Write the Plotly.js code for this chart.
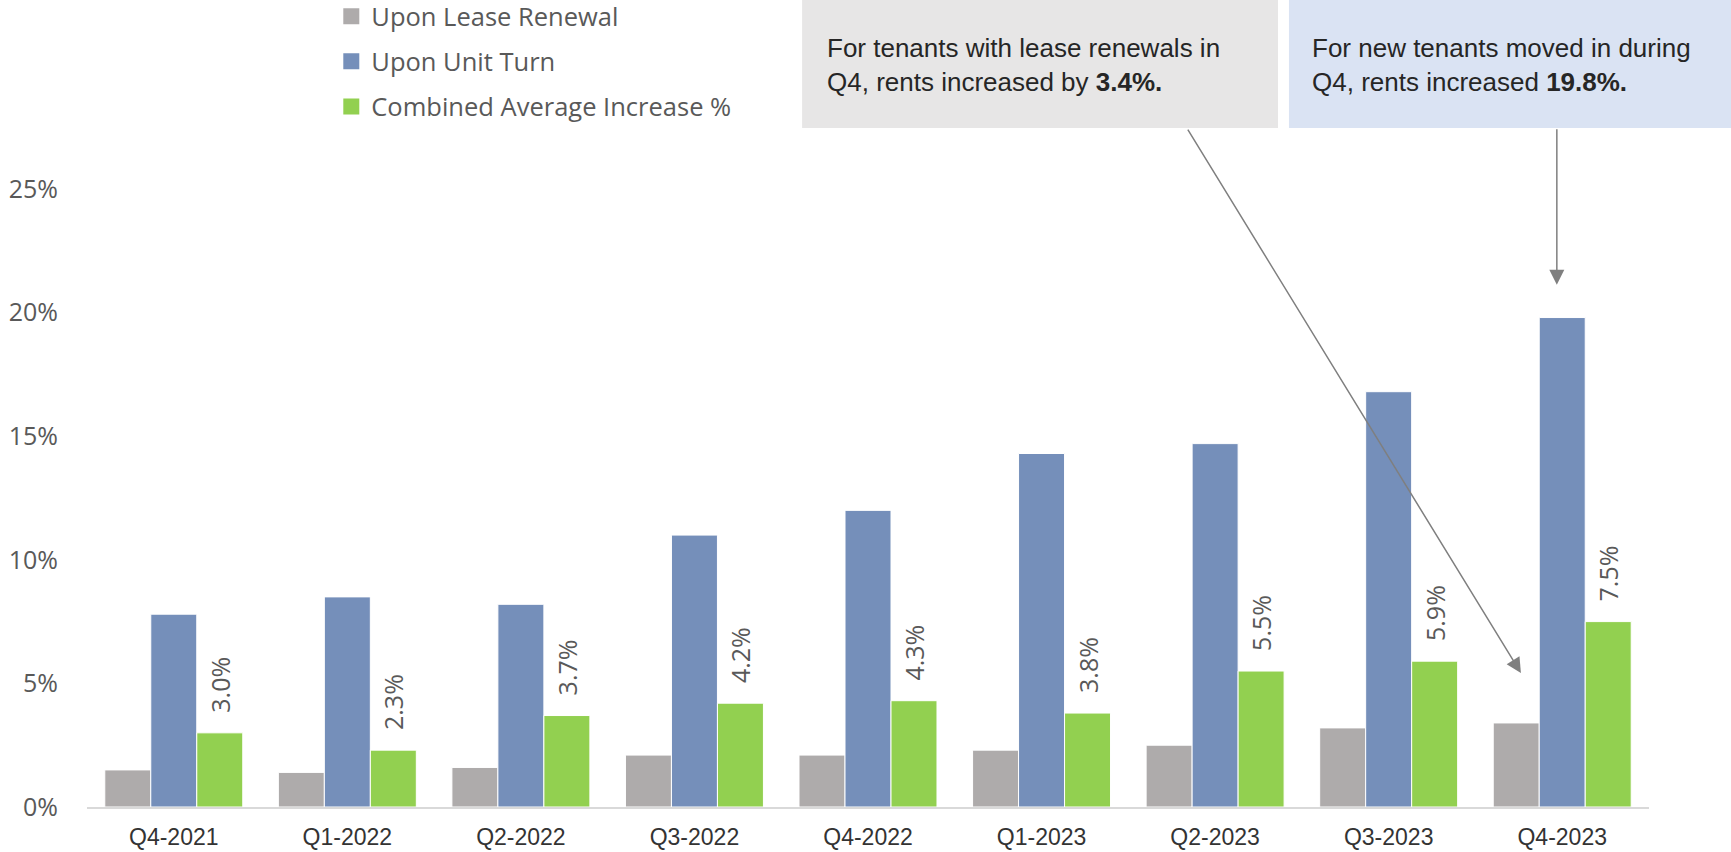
<!DOCTYPE html>
<html>
<head>
<meta charset="utf-8">
<script src="https://cdn.plot.ly/plotly-3.0.1.min.js"></script>
<style>html,body{margin:0;padding:0;background:#fff;}#chart{width:1731px;height:852px;}</style>
</head>
<body>
<div id="chart"></div>
<script>
// ---- data ----
const quarters = ['Q4-2021','Q1-2022','Q2-2022','Q3-2022','Q4-2022','Q1-2023','Q2-2023','Q3-2023','Q4-2023'];
const leaseRenewal = [1.5, 1.4, 1.6, 2.1, 2.1, 2.3, 2.5, 3.2, 3.4];
const unitTurn = [7.8, 8.5, 8.2, 11.0, 12.0, 14.3, 14.7, 16.8, 19.8];
const combinedAvg = [3.0, 2.3, 3.7, 4.2, 4.3, 3.8, 5.5, 5.9, 7.5];
const seriesNames = ['Upon Lease Renewal', 'Upon Unit Turn', 'Combined Average Increase %'];
const seriesColors = ['#AEABAB', '#758FBA', '#92D050'];
const yTicks = [0, 5, 10, 15, 20, 25];
const noteRenewal = 'For tenants with lease renewals in<br>Q4, rents increased by <b>3.4%.</b>';
const noteTurn = 'For new tenants moved in during<br>Q4, rents increased <b>19.8%.</b>';

const TXT = '#595959';
const SANS = 'Open Sans, DejaVu Sans, sans-serif';
const NARROW = 'Liberation Sans, Arial, sans-serif';

const pad = '\u00a0\u00a0\u2009';
const seriesValues = [leaseRenewal, unitTurn, combinedAvg];
const traces = [];
seriesValues.forEach((vals, i) => {
  const t = {type:'bar', name:seriesNames[i], x:quarters, y:vals, legendgroup:'g' + i,
    showlegend:false, marker:{color:seriesColors[i], line:{color:'#ffffff', width:1}}, hoverinfo:'skip'};
  if (i === 2) {
    Object.assign(t, {text: vals.map(v => pad + v.toFixed(1) + '%'),
      textposition:'outside', textangle:-90, constraintext:'none', cliponaxis:false,
      textfont:{family:SANS, size:25, color:TXT}});
  }
  traces.push(t);
});
// legend entries (square swatches like the reference)
seriesNames.forEach((n, i) => {
  traces.push({type:'scatter', mode:'markers', name:n, x:[null], y:[null], legendgroup:'g' + i,
    showlegend:true, marker:{symbol:'square', size:16, color:seriesColors[i]}, hoverinfo:'skip'});
});

const layout = {
  width:1731, height:852,
  margin:{l:87, r:82, t:189, b:45, pad:0, autoexpand:false},
  paper_bgcolor:'#ffffff', plot_bgcolor:'#ffffff',
  barmode:'group', bargap:0.205, bargroupgap:0,
  font:{family:SANS, color:TXT},
  showlegend:true,
  legend:{x:0.1564, y:1.317, xanchor:'left', yanchor:'top', orientation:'v', itemsizing:'trace',
    font:{family:SANS, size:25.5, color:TXT}, tracegroupgap:9, bgcolor:'rgba(0,0,0,0)'},
  xaxis:{type:'category', showgrid:false, zeroline:false, showline:true,
    linecolor:'#D9D9D9', linewidth:2, ticks:'', ticklabelstandoff:8,
    tickfont:{family:NARROW, size:23, color:'#333333'}, fixedrange:true},
  yaxis:{range:[0,25], tickvals:yTicks, ticktext:yTicks.map(v => v + '%'),
    showgrid:false, zeroline:false, showline:false, ticks:'', ticklabelstandoff:28,
    tickfont:{family:SANS, size:25, color:TXT}, fixedrange:true},
  shapes:[
    {type:'rect', xref:'paper', yref:'paper', x0:0.4578, x1:0.7625, y0:1.0987, y1:1.32,
     fillcolor:'#E7E6E6', line:{width:0}, layer:'below'},
    {type:'rect', xref:'paper', yref:'paper', x0:0.7695, x1:1.06, y0:1.0987, y1:1.32,
     fillcolor:'#DAE3F3', line:{width:0}, layer:'below'}
  ],
  annotations:[
    {xref:'paper', yref:'paper', x:0.4725, y:1.2, xanchor:'left', yanchor:'middle', align:'left',
     text:noteRenewal, showarrow:false, font:{family:NARROW, size:26, color:'#262626'}},
    {xref:'paper', yref:'paper', x:0.783, y:1.2, xanchor:'left', yanchor:'middle', align:'left',
     text:noteTurn, showarrow:false, font:{family:NARROW, size:26, color:'#262626'}},
    {xref:'paper', yref:'paper', x:0.918, y:0.2168, text:'', showarrow:true,
     axref:'pixel', ayref:'pixel', ax:-334, ay:-545,
     arrowhead:2, arrowsize:2, arrowwidth:1.5, arrowcolor:'#7F7F7F', standoff:0},
    {xref:'paper', yref:'paper', x:0.941, y:0.845, text:'', showarrow:true,
     axref:'pixel', ayref:'pixel', ax:0, ay:-157,
     arrowhead:2, arrowsize:2, arrowwidth:1.5, arrowcolor:'#7F7F7F', standoff:0}
  ]
};

Plotly.newPlot('chart', traces, layout, {displayModeBar:false, staticPlot:true});
</script>
</body>
</html>
